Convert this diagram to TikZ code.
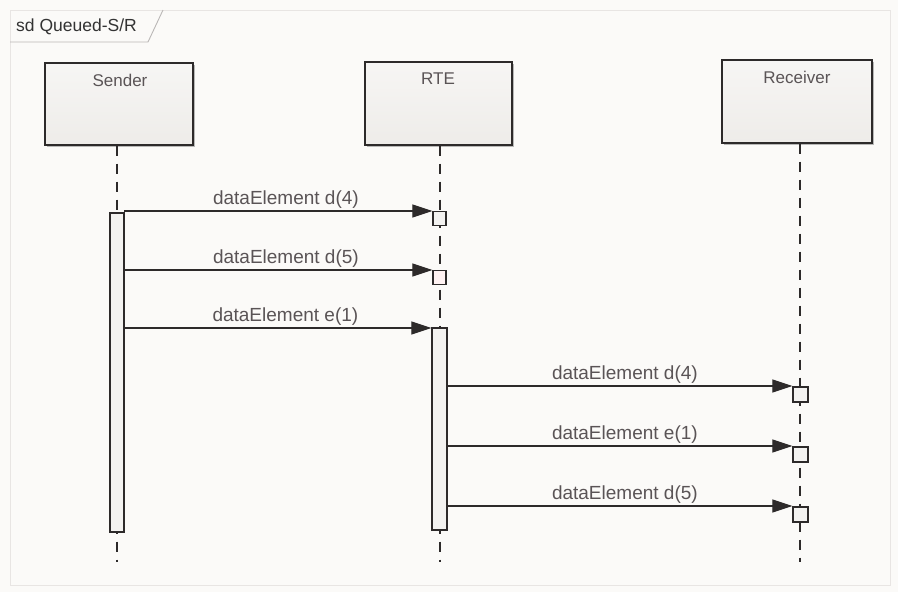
\documentclass[tikz,border=0pt]{standalone}
\usepackage{fontspec}
\setmainfont{Liberation Sans}
\usetikzlibrary{arrows.meta,shadows}
\definecolor{bg}{RGB}{251,250,248}
\definecolor{boxfill}{RGB}{238,236,233}
\definecolor{boxtxt}{RGB}{90,84,86}
\definecolor{lnc}{RGB}{45,42,42}
\definecolor{framec}{RGB}{232,229,227}
\tikzset{
  x=1pt,y=-1pt,
  lifebox/.style={draw=lnc,line width=1.3pt,top color=boxfill!50!white,bottom color=boxfill,
    drop shadow={shadow xshift=1.5pt,shadow yshift=-1.5pt,fill=black!45,opacity=0.6}},
  lbl/.style={font=\fontsize{17}{20}\selectfont,text=boxtxt},
  lifeline/.style={draw=lnc,line width=1.3pt,dash pattern=on 10pt off 8pt},
  actbar/.style={draw=lnc,line width=1.2pt,fill=boxfill!70!white},
  recv/.style={draw=lnc,line width=1.2pt,fill=boxfill!70!white},
  msg/.style={draw=lnc,line width=1.1pt,-{Triangle[length=20pt,width=13pt]}},
  mlbl/.style={font=\fontsize{19}{22}\selectfont,text=boxtxt,anchor=south,inner sep=1pt},
}
\begin{document}
\begin{tikzpicture}
\fill[bg] (0,0) rectangle (898,592);
\useasboundingbox (0,0) rectangle (898,592);
% frame
\draw[framec,line width=0.8pt] (10,585) -- (10,10) -- (890,10) -- (890,585) -- cycle;
\draw[framec!80!black,line width=0.9pt] (10,42) -- (148,42) -- (163,10);
\node[anchor=west,font=\fontsize{17.5}{20}\selectfont,text=black!80,inner sep=0pt] (title) at (16,27) {sd Queued-S/R};

% lifeline heads
\node[lifebox,minimum width=148pt,minimum height=82pt] (sender) at (119,104) {};
\node[lifebox,minimum width=147pt,minimum height=83pt] (rte) at (438.5,103.5) {};
\node[lifebox,minimum width=150pt,minimum height=83pt] (receiver) at (797,101.5) {};
\node[lbl] (senderl) at (120,80) {Sender};
\node[lbl] (rtel) at (438,79) {RTE};
\node[lbl] (receiverl) at (797,77) {Receiver};

% lifelines
\coordinate (sEnd) at (117,562);
\coordinate (rEnd) at (440,562);
\coordinate (cEnd) at (800,562);
\draw[lifeline] (sender.south -| sEnd) -- (sEnd);
\draw[lifeline] (rte.south -| rEnd) -- (rEnd);
\draw[lifeline] (receiver.south -| cEnd) -- (cEnd);

% activation bars
\node[actbar,minimum width=14pt,minimum height=319pt,inner sep=0pt] (sbar) at (117,372.5) {};
\node[actbar,minimum width=15pt,minimum height=202pt,inner sep=0pt] (rbar) at (439.5,429) {};
\node[recv,minimum width=13pt,minimum height=14pt,inner sep=0pt] (r1) at (439.5,218.5) {};
\node[recv,fill=pink!20,minimum width=13pt,minimum height=14pt,inner sep=0pt] (r2) at (439.5,277.5) {};
\node[recv,minimum width=15pt,minimum height=15pt,inner sep=0pt] (c1) at (800.5,394.5) {};
\node[recv,minimum width=15pt,minimum height=15pt,inner sep=0pt] (c2) at (800.5,454.5) {};
\node[recv,minimum width=15pt,minimum height=15pt,inner sep=0pt] (c3) at (800.5,514.5) {};

% messages
\coordinate (m1s) at (124,211);
\coordinate (m2s) at (124,270);
\coordinate (m3s) at (124,328);
\draw[msg] (m1s) -- (m1s -| r1.west) node[mlbl,pos=0.525,yshift=1pt] (l1) {dataElement d(4)};
\draw[msg] (m2s) -- (m2s -| r2.west) node[mlbl,pos=0.525,yshift=1pt] (l2) {dataElement d(5)};
\draw[msg] (m3s) -- (m3s -| rbar.west) node[mlbl,pos=0.525,yshift=1pt] (l3) {dataElement e(1)};
\coordinate (m4s) at (447,386);
\coordinate (m5s) at (447,446);
\coordinate (m6s) at (447,506);
\draw[msg] (m4s) -- (m4s -| c1.west) node[mlbl,pos=0.515,yshift=1pt] (l4) {dataElement d(4)};
\draw[msg] (m5s) -- (m5s -| c2.west) node[mlbl,pos=0.515,yshift=1pt] (l5) {dataElement e(1)};
\draw[msg] (m6s) -- (m6s -| c3.west) node[mlbl,pos=0.515,yshift=1pt] (l6) {dataElement d(5)};
\end{tikzpicture}
\end{document}
